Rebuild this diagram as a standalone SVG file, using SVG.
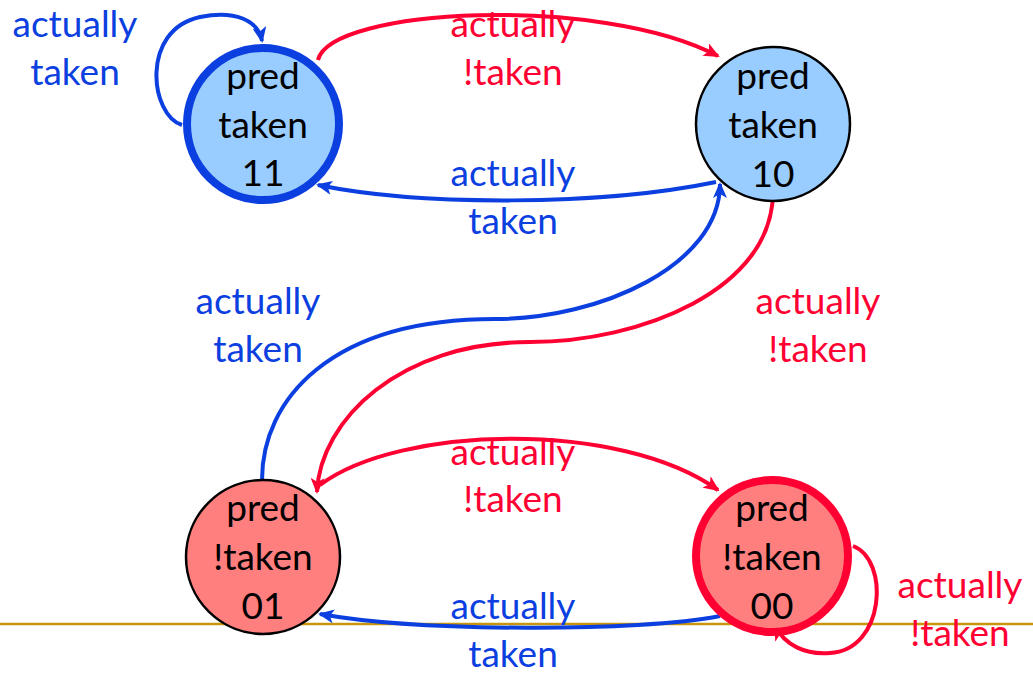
<svg xmlns="http://www.w3.org/2000/svg" width="1033" height="674" viewBox="0 0 1033 674">
<style>
text{font-family:Lato,"Open Sans","Liberation Sans",sans-serif;font-size:37px;text-anchor:middle}
.nt{fill:#000}
.bl{fill:#0B3FE0}
.rd{fill:#FF0033}
.cb{fill:none;stroke:#0B3FE0;stroke-width:4}
.cr{fill:none;stroke:#FF0033;stroke-width:4}
</style>
<defs>
<marker id="ab" markerUnits="userSpaceOnUse" markerWidth="16" markerHeight="14" refX="14" refY="7" orient="auto"><path d="M0,0 L16,7 L0,14 L4,7 Z" fill="#0B3FE0"/></marker>
<marker id="ar" markerUnits="userSpaceOnUse" markerWidth="16" markerHeight="14" refX="14" refY="7" orient="auto"><path d="M0,0 L16,7 L0,14 L4,7 Z" fill="#FF0033"/></marker>
</defs>
<rect width="1033" height="674" fill="#fff"/>
<line x1="0" y1="624" x2="1033" y2="624" stroke="#C8960C" stroke-width="2.5"/>
<g id="connectors">
<path class="cb" d="M182 125 C150 115 140 30 200 17 C235 10 258 20 262 41" marker-end="url(#ab)"/>
<path class="cr" d="M318 60 C330 8 600 -6 718 56" marker-end="url(#ar)"/>
<path class="cb" d="M716 182 C600 206 420 206 318 185" marker-end="url(#ab)"/>
<path class="cb" d="M262 480 C262 400 330 319 495 319 C600 319 720 265 720 184" marker-end="url(#ab)"/>
<path class="cr" d="M773 192 C773 290 640 342 530 342 C400 342 320 420 317 492" marker-end="url(#ar)"/>
<path class="cr" d="M320 485 C400 425 620 420 718 490" marker-end="url(#ar)"/>
<path class="cb" d="M720 616 C640 632 420 632 320 614" marker-end="url(#ab)"/>
<path class="cr" d="M853 546 C890 560 885 650 830 653 C805 655 785 645 775 626" marker-end="url(#ar)"/>
</g>
<g id="node11">
<circle cx="263" cy="124" r="76" fill="#99CCFF" stroke="#0B3FE0" stroke-width="8"/>
<text class="nt" x="263" y="89">pred</text>
<text class="nt" x="263" y="138">taken</text>
<text class="nt" x="263" y="186">11</text>
</g>
<g id="node10">
<circle cx="773" cy="124" r="77" fill="#99CCFF" stroke="#000" stroke-width="2.5"/>
<text class="nt" x="773" y="89">pred</text>
<text class="nt" x="773" y="138">taken</text>
<text class="nt" x="773" y="187">10</text>
</g>
<g id="node01">
<circle cx="263" cy="557" r="77" fill="#FF7F7F" stroke="#000" stroke-width="2.5"/>
<text class="nt" x="263" y="521">pred</text>
<text class="nt" x="263" y="570">!taken</text>
<text class="nt" x="263" y="619">01</text>
</g>
<g id="node00">
<circle cx="772" cy="556" r="76" fill="#FF7F7F" stroke="#FF0033" stroke-width="8"/>
<text class="nt" x="772" y="521">pred</text>
<text class="nt" x="772" y="570">!taken</text>
<text class="nt" x="772" y="619">00</text>
</g>
<g id="labels">
<text class="bl" x="75" y="37">actually</text>
<text class="bl" x="75" y="85">taken</text>
<text class="rd" x="513" y="37">actually</text>
<text class="rd" x="513" y="85">!taken</text>
<text class="bl" x="513" y="186">actually</text>
<text class="bl" x="513" y="234">taken</text>
<text class="bl" x="258" y="314">actually</text>
<text class="bl" x="258" y="362">taken</text>
<text class="rd" x="818" y="314">actually</text>
<text class="rd" x="818" y="362">!taken</text>
<text class="rd" x="513" y="465">actually</text>
<text class="rd" x="513" y="512">!taken</text>
<text class="bl" x="513" y="619">actually</text>
<text class="bl" x="513" y="667">taken</text>
<text class="rd" x="960" y="598">actually</text>
<text class="rd" x="960" y="646">!taken</text>
</g>
</svg>
